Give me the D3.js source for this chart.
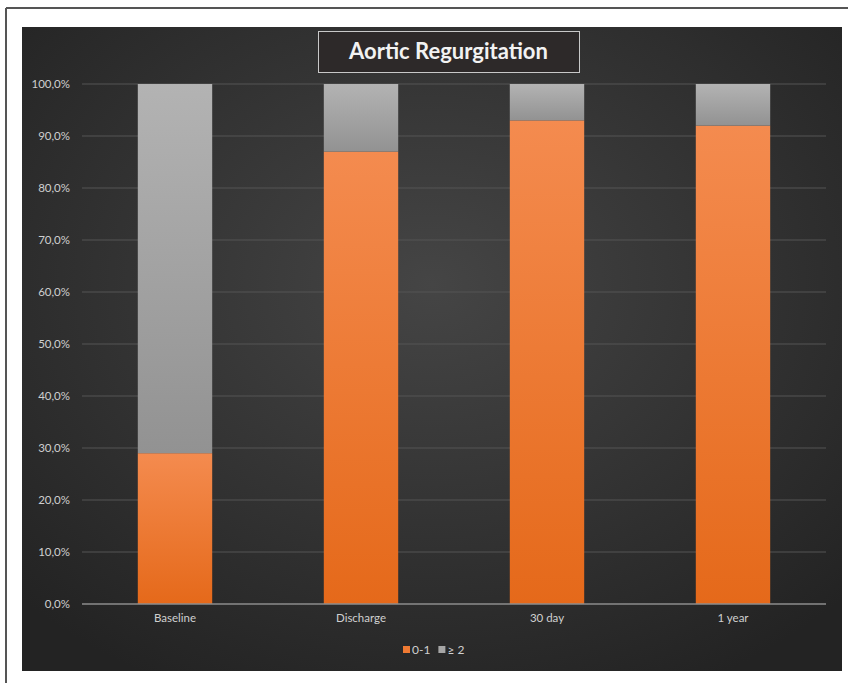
<!DOCTYPE html>
<html><head><meta charset="utf-8">
<script src="https://cdn.jsdelivr.net/npm/d3@7"></script>
<style>body{margin:0;background:#fff;}svg{display:block;}</style>
</head><body>
<script>
const categories = ["Baseline", "Discharge", "30 day", "1 year"];
const seriesNames = ["0-1", "≥ 2"];
const low = [29, 87, 93, 92];
const high = [71, 13, 7, 8];
const yTicks = [0,10,20,30,40,50,60,70,80,90,100];
const title = "Aortic Regurgitation";

const W = 848, H = 683;
const svg = d3.select("body").append("svg").attr("width", W).attr("height", H);
const defs = svg.append("defs");

const bg = defs.append("radialGradient").attr("id","bg").attr("cx","50%").attr("cy","40%").attr("r","70%");
bg.append("stop").attr("offset","0%").attr("stop-color","#454545");
bg.append("stop").attr("offset","100%").attr("stop-color","#232323");

const og = defs.append("linearGradient").attr("id","og").attr("x1",0).attr("y1",0).attr("x2",0).attr("y2",1);
og.append("stop").attr("offset","0%").attr("stop-color","#f48b4f");
og.append("stop").attr("offset","100%").attr("stop-color","#e5691a");
const gg = defs.append("linearGradient").attr("id","gg").attr("x1",0).attr("y1",0).attr("x2",0).attr("y2",1);
gg.append("stop").attr("offset","0%").attr("stop-color","#b3b3b3");
gg.append("stop").attr("offset","100%").attr("stop-color","#929292");

// page border
svg.append("line").attr("x1",6).attr("x2",W).attr("y1",8).attr("y2",8).attr("stroke","#555").attr("stroke-width",2);
svg.append("line").attr("x1",6).attr("x2",6).attr("y1",8).attr("y2",H).attr("stroke","#555").attr("stroke-width",2);

// chart background
svg.append("rect").attr("x",22).attr("y",27).attr("width",820).attr("height",644).attr("fill","url(#bg)");

const x0 = 82, x1 = 826, yTop = 84, yBot = 604;
const x = d3.scaleBand().domain(categories).range([x0, x1]).paddingInner(0.6).paddingOuter(0.3);
const y = d3.scaleLinear().domain([0, 100]).range([yBot, yTop]);

// gridlines
svg.append("g").selectAll("line").data(yTicks.filter(d=>d>0)).join("line")
  .attr("x1",x0).attr("x2",x1).attr("y1",d=>y(d)).attr("y2",d=>y(d))
  .attr("stroke","#545454").attr("stroke-width",1);

// y axis labels
const yAxis = d3.axisLeft(y).tickValues(yTicks).tickSize(0).tickPadding(12)
  .tickFormat(d => d.toFixed(1).replace(".", ",") + "%");
const ya = svg.append("g").attr("transform",`translate(${x0},0)`).call(yAxis);
ya.select(".domain").remove();
ya.selectAll("text").attr("fill","#cfcfcf").attr("font-family","Lato, 'Open Sans', sans-serif").attr("font-size",11.5);

// bars
const data = categories.map((c,i)=>({cat:c, low:low[i], high:high[i]}));
const stack = d3.stack().keys(["low","high"])(data);
const fills = ["url(#og)","url(#gg)"];
stack.forEach((s,si)=>{
  svg.append("g").selectAll("rect").data(s).join("rect")
    .attr("x", d=>x(d.data.cat)).attr("width", x.bandwidth())
    .attr("y", d=>y(d[1])).attr("height", d=>y(d[0])-y(d[1]))
    .attr("fill", fills[si]);
});

// x axis
const xAxis = d3.axisBottom(x).tickSize(0).tickPadding(10);
const xa = svg.append("g").attr("transform",`translate(0,${yBot})`).call(xAxis);
xa.select(".domain").attr("stroke","#8c8c8c").attr("stroke-width",1.5).attr("d",`M${x0},0H${x1}`);
xa.selectAll("text").attr("fill","#d0d0d0").attr("font-family","Lato, 'Open Sans', sans-serif").attr("font-size",11.5);

// title
svg.append("rect").attr("x",318.5).attr("y",31.5).attr("width",261).attr("height",41)
  .attr("fill","#2d2929").attr("stroke","#c8c8c8").attr("stroke-width",1);
svg.append("text").attr("x",448.5).attr("y",59).attr("text-anchor","middle")
  .attr("font-family","Lato, 'Open Sans', sans-serif").attr("font-weight","bold").attr("font-size",22)
  .attr("fill","#f2f2f2").text(title);

// legend
const legColors = ["#ef7a33","#a6a6a6"];
const leg = svg.append("g").attr("transform","translate(403,651)");
let lx = 0;
seriesNames.forEach((n,i)=>{
  leg.append("rect").attr("x",lx).attr("y",-5).attr("width",7).attr("height",7).attr("fill",legColors[i]);
  const t = leg.append("text").attr("x",lx+9).attr("y",3).attr("fill","#d0d0d0")
    .attr("font-family","Lato, 'Open Sans', sans-serif").attr("font-size",12).text(n);
  lx += 9 + t.node().getComputedTextLength() + 8;
});
</script>
</body></html>
